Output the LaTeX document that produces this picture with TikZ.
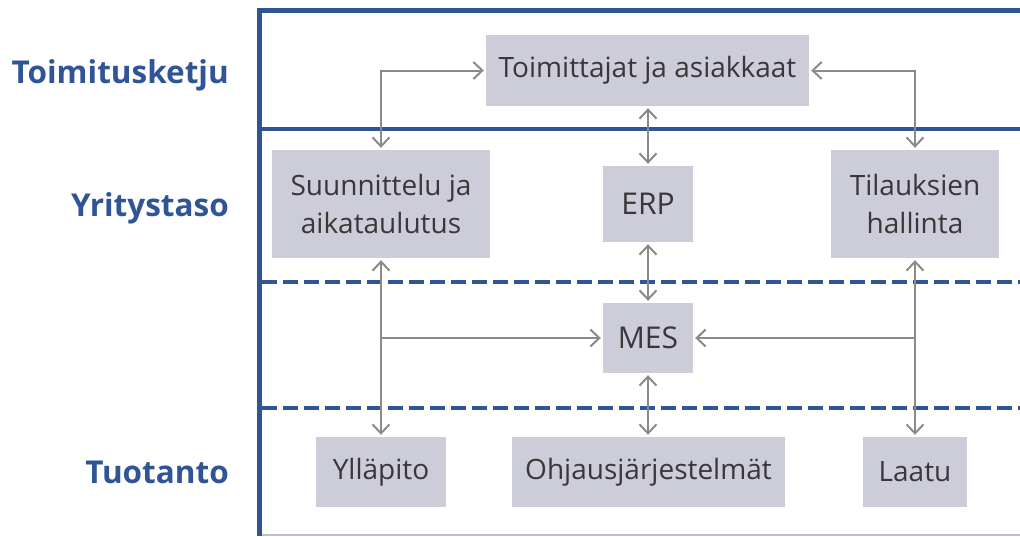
\documentclass[tikz,border=0pt]{standalone}
\usepackage{fontspec}
\setmainfont{Open Sans}
\usetikzlibrary{arrows.meta}

\definecolor{frameblue}{HTML}{2F5597}
\definecolor{boxfill}{HTML}{CDCDDA}
\definecolor{boxtext}{HTML}{383838}
\definecolor{linkgray}{HTML}{8A8A8A}
\definecolor{baseline}{HTML}{B8C0D0}

\begin{document}
\begin{tikzpicture}[x=1pt,y=-1pt,
  box/.style={fill=boxfill, draw=none, text=boxtext, align=center, inner sep=0pt,
              font=\fontsize{28}{38}\selectfont},
  level/.style={text=frameblue, anchor=base east, inner sep=0pt,
                font=\fontsize{31.5}{36}\selectfont\bfseries},
  solidrule/.style={draw=frameblue, line width=4.5pt},
  dashrule/.style={draw=frameblue, line width=4pt, dash pattern=on 15pt off 6pt},
  both/.style={draw=linkgray, line width=2pt, {Straight Barb[length=9pt, width=17pt]}-{Straight Barb[length=9pt, width=17pt]}, shorten <=2pt, shorten >=2pt},
  single/.style={draw=linkgray, line width=2pt, -{Straight Barb[length=9pt, width=17pt]}, shorten >=2pt}
]
\useasboundingbox (0,0) rectangle (1020,536);

% frame and level separators
\draw[draw=baseline, line width=1.2pt] (259,535) -- (1020,535);
\draw[dashrule] (262,282) -- (1020,282);
\draw[dashrule] (262,408) -- (1020,408);
\draw[solidrule] (259,129) -- (1020,129);
\draw[draw=frameblue, line width=5pt] (259.5,536) -- (259.5,10.5) -- (1020,10.5);

% level labels
\node[level] (lchain) at (229,83) {Toimitusketju};
\node[level] (lcorp)  at (229,216) {Yritystaso};
\node[level] (lprod)  at (229,483) {Tuotanto};

% boxes
\node[box, minimum width=323pt, minimum height=71pt] (toim) at (647.5,70.5) {Toimittajat ja asiakkaat};
\node[box, minimum width=218pt, minimum height=108pt] (sun) at (381,204) {Suunnittelu ja\\aikataulutus};
\node[box, minimum width=90pt, minimum height=76pt, font=\fontsize{30}{36}\selectfont] (erp) at (648,204) {ERP};
\node[box, minimum width=168pt, minimum height=108pt] (til) at (915,204) {Tilauksien\\hallinta};
\node[box, minimum width=90pt, minimum height=70pt, font=\fontsize{30}{36}\selectfont] (mes) at (648,338) {MES};
\node[box, minimum width=130pt, minimum height=70pt] (yll) at (381,472) {Ylläpito};
\node[box, minimum width=273pt, minimum height=70pt] (ohj) at (648.5,472) {Ohjausjärjestelmät};
\node[box, minimum width=104pt, minimum height=70pt] (laa) at (915,472) {Laatu};

% branch points on the vertical links
\coordinate (jl) at (sun.south |- mes.west);
\coordinate (jr) at (til.south |- mes.east);

% connectors
\draw[both] (sun.north) |- (toim.west);
\draw[both] (til.north) |- (toim.east);
\draw[both] (toim.south -| erp.north) -- (erp.north);
\draw[both] (erp.south) -- (mes.north);
\draw[both] (mes.south) -- (mes.south |- ohj.north);
\draw[both] (sun.south) -- (yll.north);
\draw[both] (til.south) -- (laa.north);
\draw[single] (jl) -- (mes.west);
\draw[single] (jr) -- (mes.east);
\end{tikzpicture}
\end{document}
